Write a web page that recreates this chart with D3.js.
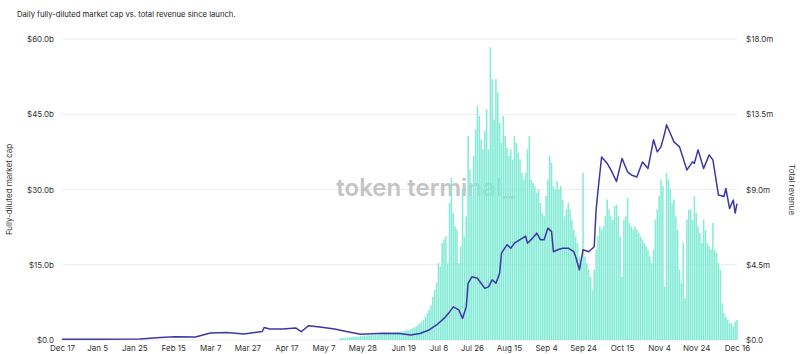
<!DOCTYPE html>
<html>
<head>
<meta charset="utf-8">
<script src="https://cdn.jsdelivr.net/npm/d3@7"></script>
<style>
  body { margin: 0; background: #fff; }
  svg { display: block; font-family: Inter, "Noto Sans", sans-serif; }
</style>
</head>
<body>
<div class="chart"></div>
<script>
// Daily fully-diluted market cap (left, $b) vs total revenue (right, $m).
const launchDate = "2024-12-17";
const lastDate = "2025-12-16";

// x tick labels shown under the chart
const tickDates = ["2024-12-17", "2025-01-05", "2025-01-25", "2025-02-15", "2025-03-07",
  "2025-03-27", "2025-04-17", "2025-05-07", "2025-05-28", "2025-06-19", "2025-07-08",
  "2025-07-26", "2025-08-15", "2025-09-04", "2025-09-24", "2025-10-15", "2025-11-04",
  "2025-11-24", "2025-12-16"];

const capTicks = [0, 15, 30, 45, 60];
const revenueTicks = [0, 4.5, 9, 13.5, 18];

// daily revenue ($m), one value per day starting at revenueStart
const revenueStart = "2025-05-16";
const revenue = [
  0.1, 0.12, 0.1, 0.15, 0.12, 0.18, 0.15, 0.2, 0.18, 0.22,
  0.2, 0.25, 0.22, 0.28, 0.25, 0.3, 0.27, 0.32, 0.3, 0.35,
  0.33, 0.38, 0.35, 0.4, 0.37, 0.42, 0.4, 0.45, 0.42, 0.48,
  0.45, 0.5, 0.47, 0.52, 0.5, 0.55, 0.6, 0.58, 0.65, 0.7,
  0.75, 0.8, 0.9,
  1.0, 1.1, 1.2, 1.4, 1.6, 1.8, 2.1, 2.6, 3.0, 3.4,
  4.6, 4.4, 5.8, 6.0, 6.2, 4.6, 8.2, 9.7, 7.6, 6.8,
  6.6, 4.6, 5.6, 9.0, 6.2, 7.4, 12.2, 10.2, 8.6, 11.0,
  12.6, 14.0, 13.4, 12.0, 11.4, 12.5, 13.8, 11.4, 17.5, 15.6,
  13.2, 15.6, 14.8, 13.0, 11.8, 13.4, 12.2, 11.5, 11.0, 11.4,
  10.8, 12.2, 11.8, 11.2, 10.8, 10.0, 9.6, 10.0, 11.4, 12.2,
  9.6, 9.4, 9.2, 8.8, 9.0, 8.2, 7.6, 7.4, 8.6, 9.6,
  11.0, 10.6, 9.2, 9.0, 9.5, 9.0, 9.2, 8.4, 7.4, 7.8,
  8.2, 7.8, 7.2, 6.6, 6.2, 5.8, 5.0, 4.6, 10.0, 5.0,
  4.6, 4.2, 3.8, 3.0, 4.2, 5.4, 6.2, 6.8, 6.6, 6.8,
  7.4, 8.4, 7.8, 7.4, 7.2, 8.0, 8.1, 7.4, 6.2, 3.8,
  7.2, 7.4, 8.5, 7.0, 6.8, 6.6, 6.8, 6.6, 6.4, 6.2,
  6.0, 5.8, 5.6, 5.4, 5.0, 4.6, 5.4, 7.2, 7.8, 8.6,
  9.6, 9.2, 3.2, 10.0, 9.6, 9.0, 8.2, 8.4, 7.4, 6.6,
  4.2, 3.4, 5.8, 2.5, 7.2, 7.8, 7.8, 7.2, 8.6, 7.6,
  6.8, 6.4, 5.8, 7.2, 6.6, 5.8, 5.6, 5.4, 7.0, 5.4,
  5.2, 4.6, 4.2, 2.2, 1.6, 1.4, 1.2, 1.0, 1.0, 0.8,
  1.1, 1.2
];

// fully-diluted market cap ($b), read at these days after launch
const capDay = [0, 20, 42, 53, 61, 72, 80, 89, 98, 104, 108, 109, 112, 119, 126, 129, 133,
  139, 147, 154, 161, 173, 182, 188, 193, 198, 202, 206, 209, 211, 214, 216, 218, 219,
  221, 224, 226, 228, 230, 232, 234, 236, 237, 240, 242, 244, 247, 250, 251, 253, 256,
  258, 260, 262, 264, 265, 268, 270, 273, 276, 277, 279, 281, 284, 287, 288, 289, 291,
  294, 296, 299, 302, 305, 307, 310, 312, 313, 316, 319, 321, 323, 325, 326, 328, 330,
  333, 337, 340, 341, 343, 346, 349, 351, 354, 357, 358, 360, 362, 363, 364];
const capValue = [0.14, 0.14, 0.2, 0.5, 0.66, 0.6, 1.4, 1.5, 1.2, 1.5, 1.7, 2.5, 2.2, 2.2,
  2.4, 1.65, 2.85, 2.6, 2.2, 1.65, 1.14, 1.34, 1.3, 1.0, 1.3, 2.0, 3.0, 4.3, 5.6, 6.6,
  6.0, 4.3, 6.6, 11.3, 12.6, 12.3, 11.3, 10.3, 10.6, 12.0, 11.3, 13.3, 17.3, 19.0, 18.3,
  19.3, 20.0, 20.7, 19.3, 20.0, 21.3, 20.0, 20.0, 22.3, 21.6, 17.6, 18.1, 18.3, 18.3,
  17.6, 16.6, 14.0, 18.0, 17.6, 18.6, 25.9, 29.6, 36.5, 35.2, 33.9, 31.6, 36.2, 33.5,
  32.9, 32.5, 34.5, 35.5, 34.2, 39.9, 37.5, 38.5, 41.2, 42.9, 41.2, 39.5, 38.5, 33.9,
  35.5, 35.2, 37.9, 34.2, 36.9, 35.9, 28.9, 28.6, 30.2, 26.2, 27.9, 25.3, 27.2];

const width = 800, height = 354;
const margin = { top: 39, right: 63, bottom: 14, left: 62 };
const parse = d3.utcParse("%Y-%m-%d");

const svg = d3.select(".chart").append("svg")
  .attr("width", width)
  .attr("height", height);

// Title
svg.append("text")
  .attr("x", 17)
  .attr("y", 17)
  .attr("font-size", "7.7px")
  .attr("fill", "#222")
  .text("Daily fully-diluted market cap vs. total revenue since launch.");

const x = d3.scaleUtc()
  .domain([parse(launchDate), parse(lastDate)])
  .range([margin.left, width - margin.right]);
const yCap = d3.scaleLinear().domain([0, 60]).range([height - margin.bottom, margin.top]);
const yRev = d3.scaleLinear().domain([0, 18]).range([height - margin.bottom, margin.top]);

// Gridlines follow the left axis ticks.
svg.append("g")
  .selectAll("line")
  .data(capTicks)
  .join("line")
  .attr("x1", margin.left)
  .attr("x2", width - margin.right)
  .attr("y1", d => yCap(d))
  .attr("y2", d => yCap(d))
  .attr("stroke", "#ececec")
  .attr("stroke-width", 1);

// Watermark sits behind the marks.
svg.append("text")
  .attr("x", 425)
  .attr("y", 196)
  .attr("text-anchor", "middle")
  .attr("font-size", "24px")
  .attr("font-weight", 600)
  .attr("fill", "#c4c4c4")
  .text("token terminal_");

// Revenue bars
const revStart = parse(revenueStart);
const revData = revenue.map((v, i) => ({ date: d3.utcDay.offset(revStart, i), value: v }));
const step = x(d3.utcDay.offset(revStart, 1)) - x(revStart);
svg.append("g")
  .selectAll("rect")
  .data(revData)
  .join("rect")
  .attr("x", d => x(d.date) - step * 0.41)
  .attr("width", step * 0.82)
  .attr("y", d => yRev(d.value))
  .attr("height", d => yRev(0) - yRev(d.value))
  .attr("fill", "#84ebd6");

// Market cap line
const launch = parse(launchDate);
const capData = capDay.map((d, i) => ({ date: d3.utcDay.offset(launch, d), value: capValue[i] }));
svg.append("path")
  .datum(capData)
  .attr("fill", "none")
  .attr("stroke", "#3d37a6")
  .attr("stroke-width", 1.5)
  .attr("stroke-linejoin", "round")
  .attr("d", d3.line().x(d => x(d.date)).y(d => yCap(d.value)));

// Left axis
const leftAxis = svg.append("g")
  .attr("transform", `translate(${margin.left - 5},0)`)
  .call(d3.axisLeft(yCap).tickValues(capTicks).tickSize(0)
    .tickFormat(d => d === 0 ? "$0.0" : `$${d.toFixed(1)}b`));
leftAxis.select(".domain").remove();
leftAxis.selectAll("text").attr("font-size", "8px").attr("fill", "#333").attr("font-family", "Inter, sans-serif");

// Right axis
const rightAxis = svg.append("g")
  .attr("transform", `translate(${width - margin.right + 6},0)`)
  .call(d3.axisRight(yRev).tickValues(revenueTicks).tickSize(0)
    .tickFormat(d => d === 0 ? "$0.0" : `$${d.toFixed(1)}m`));
rightAxis.select(".domain").remove();
rightAxis.selectAll("text").attr("font-size", "8px").attr("fill", "#333").attr("font-family", "Inter, sans-serif");

// Bottom axis
const bottomAxis = svg.append("g")
  .attr("transform", `translate(0,${height - margin.bottom})`)
  .call(d3.axisBottom(x).tickValues(tickDates.map(parse)).tickSize(0)
    .tickFormat(d3.utcFormat("%b %-d")));
bottomAxis.select(".domain").remove();
bottomAxis.selectAll("text").attr("dy", "0.95em").attr("font-size", "8px").attr("fill", "#333").attr("font-family", "Inter, sans-serif");

// Axis titles
svg.append("text")
  .attr("transform", `translate(12,${(yCap(0) + yCap(60)) / 2}) rotate(-90)`)
  .attr("text-anchor", "middle")
  .attr("font-size", "8px")
  .attr("fill", "#333")
  .text("Fully-diluted market cap");
svg.append("text")
  .attr("transform", `translate(789,${(yRev(0) + yRev(18)) / 2}) rotate(90)`)
  .attr("text-anchor", "middle")
  .attr("font-size", "8px")
  .attr("fill", "#333")
  .text("Total revenue");
</script>
</body>
</html>
